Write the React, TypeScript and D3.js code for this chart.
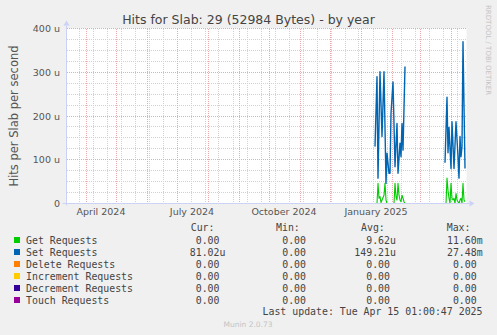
import React from "react";
import * as d3 from "d3";

// series data (values in micro-hits per second, "u")
const setDates = [
  "2025-01-15", "2025-01-17", "2025-01-18", "2025-01-20", "2025-01-22", "2025-01-24",
  "2025-01-26", "2025-01-27", "2025-01-29", "2025-01-30", "2025-01-31", "2025-02-02",
  "2025-02-04", "2025-02-06", "2025-02-07", "2025-02-09", "2025-02-10", "2025-02-11",
  "2025-02-12", "2025-02-14", "2025-02-20", "2025-03-26", "2025-03-28", "2025-03-29",
  "2025-03-30", "2025-04-01", "2025-04-02", "2025-04-04", "2025-04-06", "2025-04-08",
  "2025-04-09", "2025-04-10", "2025-04-11", "2025-04-12", "2025-04-13", "2025-04-15",
];
const setValues = [
  130, 290, 58, 301, 153, 301,
  46, 115, 69, 69, 206, 278,
  84, 183, 69, 138, 107, 183,
  122, 313, null, 93, 243, 116,
  174, 80, 187, 80, 187, 107,
  58, 153, 107, 130, 370, 80,
];

const getDates = [
  "2025-01-15", "2025-01-17", "2025-01-18", "2025-01-19", "2025-01-20", "2025-01-21",
  "2025-01-22", "2025-01-24", "2025-01-25", "2025-01-26", "2025-01-27", "2025-02-03",
  "2025-02-04", "2025-02-05", "2025-02-06", "2025-02-07", "2025-02-08", "2025-02-09",
  "2025-02-10", "2025-02-11", "2025-02-12", "2025-02-13", "2025-02-14", "2025-02-20",
  "2025-03-26", "2025-03-27", "2025-03-28", "2025-03-29", "2025-03-30", "2025-03-31",
  "2025-04-01", "2025-04-02", "2025-04-03", "2025-04-04", "2025-04-05", "2025-04-06",
  "2025-04-07", "2025-04-08", "2025-04-09", "2025-04-10", "2025-04-11", "2025-04-12",
  "2025-04-13", "2025-04-14", "2025-04-15",
];
const getValues = [
  0, 0, 46, 12, 16, 2,
  8, 19, 46, 8, 0, 0,
  46, 16, 8, 46, 19, 8,
  4, 19, 12, 4, 0, null,
  0, 0, 58, 30, 12, 0,
  46, 12, 8, 12, 0, 23,
  8, 4, 0, 8, 12, 0,
  46, 8, 4,
];

// the other four counters stayed at zero while data was collected
const zeroDates = ["2025-01-15", "2025-02-14", "2025-02-20", "2025-03-26", "2025-04-15"];
const zeroValues = [0, 0, null, 0, 0];

const seriesNames = [
  "Get Requests", "Set Requests", "Delete Requests",
  "Increment Requests", "Decrement Requests", "Touch Requests",
];
const seriesColors = ["#00cc00", "#0066b3", "#ff8000", "#ffcc00", "#330099", "#990099"];
const curValues = ["0.00", "81.02u", "0.00", "0.00", "0.00", "0.00"];
const minValues = ["0.00", "0.00", "0.00", "0.00", "0.00", "0.00"];
const avgValues = ["9.62u", "149.21u", "0.00", "0.00", "0.00", "0.00"];
const maxValues = ["11.60m", "27.48m", "0.00", "0.00", "0.00", "0.00"];

const yTicks = [0, 100, 200, 300, 400];
const yTickLabels = ["0", "100 u", "200 u", "300 u", "400 u"];
const xLabelMonths = ["2024-04-01", "2024-07-01", "2024-10-01", "2025-01-01"];
const xLabels = ["April 2024", "July 2024", "October 2024", "January 2025"];

const W = 497, H = 335;
const left = 66.5, right = 466.5, top = 28.5, bottom = 203.5;
const parse = d3.timeParse("%Y-%m-%d");

const start = new Date(2024, 2, 12, 12);
const end = d3.timeDay.offset(start, 400);
const x = d3.scaleTime().domain([start, end]).range([left, right]);
const y = d3.scaleLinear().domain([0, 400]).range([bottom, top]);

const line = d3
  .line<[Date, number | null]>()
  .defined((d) => d[1] !== null)
  .x((d) => x(d[0]))
  .y((d) => y(d[1] as number));

const pairs = (dates: string[], vals: (number | null)[]) =>
  dates.map((d, i) => [parse(d) as Date, vals[i]] as [Date, number | null]);

const sans = "'DejaVu Sans', sans-serif";
const mono = "'DejaVu Sans Mono', monospace";

const splitUnit = (s: string) => {
  const last = s[s.length - 1];
  return /[a-z]/i.test(last) ? [s.slice(0, -1), last] : [s, ""];
};

// crisp pixel helpers so the 1-on/1-off dotted grid stays dotted
const px = (v: number) => Math.round(v - 0.5) + 0.5;

const App = () => {
  const minorX = d3.timeMonday.range(new Date(2024, 2, 25), end, 2);
  const majorX = d3.timeMonth.range(d3.timeMonth.ceil(start), end);
  const minorY = d3.range(0, 401, 25);
  const gx0 = Math.ceil(left), gx1 = Math.floor(right);
  const gy0 = Math.ceil(top), gy1 = Math.floor(bottom);

  const seriesData = [
    pairs(getDates, getValues),
    pairs(setDates, setValues),
    pairs(zeroDates, zeroValues),
    pairs(zeroDates, zeroValues),
    pairs(zeroDates, zeroValues),
    pairs(zeroDates, zeroValues),
  ];

  const cols = [
    { head: "Cur:", hx: 190.7, rx: 219.5, vals: curValues },
    { head: "Min:", hx: 276, rx: 306, vals: minValues },
    { head: "Avg:", hx: 361, rx: 390, vals: avgValues },
    { head: "Max:", hx: 446.7, rx: 476.7, vals: maxValues },
  ];

  return (
    <div style={{ position: "absolute", left: 0, top: 0 }}>
      <svg width={W} height={H} style={{ display: "block", background: "#f0f0f0" }}>
        <rect x={left} y={top} width={right - left} height={bottom - top} fill="#ffffff" />

        {/* minor grid */}
        {minorY.filter((v) => v % 100 !== 0).map((v) => (
          <line key={"my" + v} x1={gx0} x2={gx1} y1={px(y(v))} y2={px(y(v))}
            stroke="#d2d2d2" strokeDasharray="1,1" strokeWidth={1} shapeRendering="crispEdges" />
        ))}
        {minorX.map((d, i) => (
          <line key={"mx" + i} x1={px(x(d))} x2={px(x(d))} y1={gy0} y2={gy1}
            stroke="#d2d2d2" strokeDasharray="1,1" strokeWidth={1} shapeRendering="crispEdges" />
        ))}
        {/* major grid */}
        {yTicks.filter((v) => v !== 0).map((v) => (
          <line key={"My" + v} x1={gx0} x2={gx1} y1={px(y(v))} y2={px(y(v))}
            stroke="#eeaaaa" strokeDasharray="1,1" strokeWidth={1} shapeRendering="crispEdges" />
        ))}
        {majorX.map((d, i) => (
          <line key={"Mx" + i} x1={px(x(d))} x2={px(x(d))} y1={gy0} y2={gy1 + 2}
            stroke="#eeaaaa" strokeDasharray="1,1" strokeWidth={1} shapeRendering="crispEdges" />
        ))}

        {/* series */}
        {seriesData.map((data, i) => (
          <path key={"s" + i} d={line(data) || ""} fill="none" stroke={seriesColors[i]}
            strokeWidth={i === 1 ? 1.4 : 1.1} strokeLinejoin="round" />
        ))}

        {/* axes */}
        <line x1={left} x2={left} y1={bottom + 2} y2={top - 3} stroke="#ccd2f5" strokeWidth={1} />
        <path d={`M${left - 3},${top - 3} L${left + 3},${top - 3} L${left},${top - 8} Z`} fill="#ccd2f5" />
        <line x1={left - 4} x2={right + 3} y1={bottom} y2={bottom} stroke="#ccd2f5" strokeWidth={1} />
        <path d={`M${right + 3},${bottom - 3} L${right + 3},${bottom + 3} L${right + 8},${bottom} Z`} fill="#ccd2f5" />

        {/* y labels */}
        {yTicks.map((v, i) => (
          <text key={"yl" + v} x={60} y={y(v) + 3.5} textAnchor="end" fontFamily={sans}
            fontSize={9.5} fill="#555">{yTickLabels[i]}</text>
        ))}
        {/* x labels */}
        {xLabelMonths.map((m, i) => (
          <text key={"xl" + m} x={x(d3.timeDay.offset(parse(m) as Date, 15))} y={215}
            textAnchor="middle" fontFamily={sans} fontSize={9.5} fill="#555">{xLabels[i]}</text>
        ))}

        {/* titles */}
        <text x={248.5} y={24} textAnchor="middle" fontFamily={sans} fontSize={12.5} fill="#444">
          Hits for Slab: 29 (52984 Bytes) - by year
        </text>
        <text transform={`translate(17.5,${(top + bottom) / 2}) rotate(-90)`} textAnchor="middle"
          fontFamily={sans} fontSize={11.5} fill="#555">Hits per Slab per second</text>
        <text transform="translate(486,5) rotate(90)" fontFamily={sans} fontSize={7}
          fill="#c4c4c4">RRDTOOL / TOBI OETIKER</text>

        {/* legend */}
        {cols.map((c) => (
          <text key={c.head} x={c.hx} y={230.8} fontFamily={mono} fontSize={9.9} fill="#444">{c.head}</text>
        ))}
        {seriesNames.map((name, i) => {
          const cy = 240 + i * 12;
          return (
            <g key={name}>
              <rect x={14} y={cy - 3} width={6} height={6} fill={seriesColors[i]} />
              <text x={26} y={cy + 3.5} fontFamily={mono} fontSize={9.9} fill="#444">{name}</text>
              {cols.map((c) => {
                const [num, unit] = splitUnit(c.vals[i]);
                return (
                  <g key={c.head}>
                    <text x={c.rx} y={cy + 3.5} textAnchor="end" fontFamily={mono} fontSize={9.9} fill="#444">{num}</text>
                    {unit && (
                      <text x={c.rx} y={cy + 3.5} fontFamily={mono} fontSize={9.9} fill="#444">{unit}</text>
                    )}
                  </g>
                );
              })}
            </g>
          );
        })}
        <text x={482.5} y={314.8} textAnchor="end" fontFamily={mono} fontSize={9.9} fill="#444">
          Last update: Tue Apr 15 01:00:47 2025
        </text>
        <text x={248} y={326.5} textAnchor="middle" fontFamily={sans} fontSize={7.5} fill="#c4c4c4">
          Munin 2.0.73
        </text>
      </svg>
    </div>
  );
};

export default App;
